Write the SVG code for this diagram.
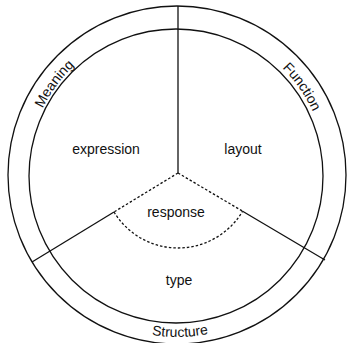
<svg xmlns="http://www.w3.org/2000/svg" width="347" height="343" viewBox="0 0 347 343">
<style>
.ln{fill:none;stroke:#111;stroke-width:1.3}
.dash{fill:none;stroke:#111;stroke-width:1.3;stroke-dasharray:2.5 2}
.t{font-family:"Liberation Sans",Arial,Helvetica,sans-serif;font-size:14px;fill:#111}
</style>
<defs>
<path id="pMeaning" d="M31.1,209.8 A150,150 0 0 1 168.1,25.3"/>
<path id="pFunction" d="M189.6,25.5 A150,150 0 0 1 322,213.3"/>
<path id="pStructure" d="M98.7,316.8 A162,162 0 0 0 260.7,313.7"/>
</defs>
<rect width="347" height="343" fill="#fff"/>
<g id="rings">
<circle class="ln" cx="177" cy="175" r="169"/>
<circle class="ln" cx="176" cy="176" r="147"/>
</g>
<g id="connectors">
<line class="ln" x1="178" y1="6" x2="178" y2="173"/>
<line class="ln" x1="114" y1="212" x2="32" y2="262"/>
<line class="ln" x1="242.6" y1="211.2" x2="325" y2="260"/>
<line class="dash" x1="178" y1="173" x2="114" y2="212"/>
<line class="dash" x1="178" y1="173" x2="242.6" y2="211.2"/>
<path class="dash" d="M114,212 A75,75 0 0 0 242.6,211.2"/>
</g>
<g id="meaning"><text class="t"><textPath href="#pMeaning" startOffset="50%" text-anchor="middle">Meaning</textPath></text></g>
<g id="function"><text class="t"><textPath href="#pFunction" startOffset="50%" text-anchor="middle">Function</textPath></text></g>
<g id="structure"><text class="t"><textPath href="#pStructure" startOffset="50%" text-anchor="middle">Structure</textPath></text></g>
<g id="expression"><text class="t" x="106" y="154" text-anchor="middle">expression</text></g>
<g id="layout"><text class="t" x="243" y="154" text-anchor="middle">layout</text></g>
<g id="response"><text class="t" x="176" y="217" text-anchor="middle">response</text></g>
<g id="type"><text class="t" x="179" y="285" text-anchor="middle">type</text></g>
</svg>
